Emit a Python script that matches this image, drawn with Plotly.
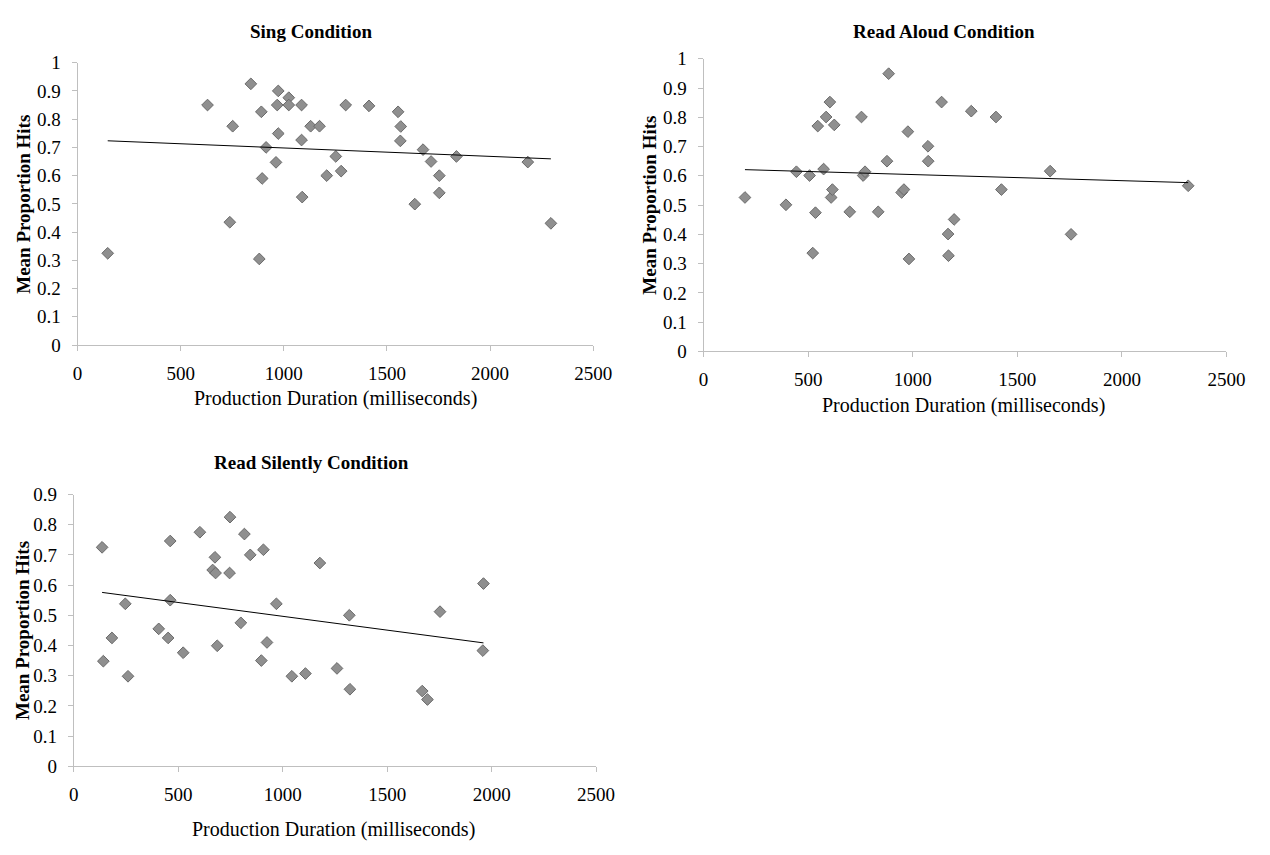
import numpy as np
import plotly.graph_objects as go

# ---------------- data ----------------
sing_x = [146, 630, 752, 738, 840, 891, 881, 895, 914, 962, 968, 973, 973, 1024, 1024, 1086, 1086, 1089,
          1130, 1173, 1208, 1252, 1278, 1300, 1413, 1554, 1567, 1565, 1635, 1675, 1714, 1754, 1754, 1837, 2183, 2295]
sing_y = [0.325, 0.850, 0.775, 0.435, 0.925, 0.826, 0.305, 0.590, 0.700, 0.647, 0.850, 0.900, 0.749, 0.876, 0.850,
          0.850, 0.726, 0.524, 0.775, 0.775, 0.600, 0.668, 0.616, 0.850, 0.847, 0.826, 0.774, 0.723, 0.499, 0.692,
          0.650, 0.600, 0.539, 0.668, 0.648, 0.431]

aloud_x = [198, 394, 444, 507, 522, 535, 546, 574, 586, 604, 610, 616, 625, 699, 755, 763, 772, 835, 877, 885,
           947, 958, 977, 982, 1073, 1074, 1138, 1169, 1171, 1198, 1280, 1398, 1424, 1657, 1757, 2317]
aloud_y = [0.526, 0.501, 0.614, 0.601, 0.336, 0.474, 0.770, 0.623, 0.801, 0.852, 0.526, 0.553, 0.774, 0.477,
           0.801, 0.601, 0.614, 0.477, 0.650, 0.949, 0.543, 0.553, 0.751, 0.316, 0.701, 0.650, 0.852, 0.401,
           0.327, 0.451, 0.821, 0.801, 0.553, 0.616, 0.400, 0.566]

silent_x = [136, 142, 183, 247, 260, 407, 452, 462, 462, 524, 604, 665, 676, 679, 687, 746, 748, 800, 817, 845,
            898, 908, 925, 970, 1044, 1109, 1178, 1260, 1319, 1322, 1668, 1693, 1753, 1961, 1958]
silent_y = [0.725, 0.348, 0.425, 0.538, 0.298, 0.455, 0.425, 0.746, 0.550, 0.376, 0.775, 0.650, 0.692, 0.640,
            0.399, 0.640, 0.825, 0.475, 0.769, 0.700, 0.350, 0.717, 0.410, 0.538, 0.298, 0.307, 0.673, 0.324,
            0.500, 0.255, 0.249, 0.221, 0.512, 0.605, 0.383]

titles = ["Sing Condition", "Read Aloud Condition", "Read Silently Condition"]
x_title = "Production Duration (milliseconds)"
y_title = "Mean Proportion Hits"
x_ticks = [0, 500, 1000, 1500, 2000, 2500]
y_ticks_10 = [0, 0.1, 0.2, 0.3, 0.4, 0.5, 0.6, 0.7, 0.8, 0.9, 1]
y_ticks_09 = [0, 0.1, 0.2, 0.3, 0.4, 0.5, 0.6, 0.7, 0.8, 0.9]

# ---------------- figure ----------------
W, H = 1270, 855
FONT = "Liberation Serif, Times New Roman, serif"
AX = "#bfbfbf"


def px(x):
    return x / W


def py(y):
    return 1 - y / H


panels = [
    dict(x=sing_x, y=sing_y, xd=[px(74), px(599.5)], yd=[py(343.5), py(54)], yr=[0, 1], yt=y_ticks_10,
         title=titles[0], tpos=(312, 22), xtpos=(337, 398), ytpos=(18, 199)),
    dict(x=aloud_x, y=aloud_y, xd=[px(712), px(1245)], yd=[py(350), py(50)], yr=[0, 1], yt=y_ticks_10,
         title=titles[1], tpos=(957, 22), xtpos=(977, 405), ytpos=(657, 200)),
    dict(x=silent_x, y=silent_y, xd=[px(70), px(602.5)], yd=[py(775.3), py(496.7)], yr=[0, 0.9], yt=y_ticks_09,
         title=titles[2], tpos=(312, 464), xtpos=(335, 840), ytpos=(18, 636)),
]

fig = go.Figure()
annotations = []
for i, p in enumerate(panels, start=1):
    xa = "x" if i == 1 else f"x{i}"
    ya = "y" if i == 1 else f"y{i}"
    fig.add_trace(go.Scatter(
        x=p["x"], y=p["y"], mode="markers", xaxis=xa, yaxis=ya, showlegend=False,
        marker=dict(symbol="diamond", size=9, color="#8f8f8f", line=dict(color="#6a6a6a", width=1)),
    ))
    slope, intercept = np.polyfit(p["x"], p["y"], 1)
    lx = np.array([min(p["x"]), max(p["x"])])
    fig.add_trace(go.Scatter(
        x=lx, y=slope * lx + intercept, mode="lines", xaxis=xa, yaxis=ya, showlegend=False,
        line=dict(color="black", width=1),
    ))
    axis_common = dict(showline=True, linecolor=AX, linewidth=1, ticks="outside", ticklen=5, tickcolor=AX,
                       showgrid=False, zeroline=False,
                       tickfont=dict(family=FONT, size=19, color="black"))
    fig.update_layout(**{
        ("xaxis" if i == 1 else f"xaxis{i}"): dict(domain=p["xd"], range=[0, 2500], tickvals=x_ticks,
                                                    anchor=ya, ticklabelstandoff=6, **axis_common),
        ("yaxis" if i == 1 else f"yaxis{i}"): dict(domain=p["yd"], range=p["yr"], tickvals=p["yt"],
                                                    ticktext=[f"{v:g}" for v in p["yt"]],
                                                    anchor=xa, ticklabelstandoff=7, **axis_common),
    })
    annotations.append(dict(text=f"<b>{p['title']}</b>", x=px(p["tpos"][0]), y=py(p["tpos"][1]),
                            xref="paper", yref="paper", showarrow=False, xanchor="center", yanchor="middle",
                            font=dict(family=FONT, size=19, color="black")))
    annotations.append(dict(text=x_title, x=px(p["xtpos"][0]), y=py(p["xtpos"][1]),
                            xref="paper", yref="paper", showarrow=False, xanchor="center", yanchor="middle",
                            font=dict(family=FONT, size=20, color="black")))
    annotations.append(dict(text=f"<b>{y_title}</b>", x=px(p["ytpos"][0]), y=py(p["ytpos"][1]),
                            xref="paper", yref="paper", showarrow=False, xanchor="center", yanchor="middle",
                            textangle=-90, font=dict(family=FONT, size=19, color="black")))

fig.update_layout(width=W, height=H, margin=dict(l=0, r=0, t=0, b=0), paper_bgcolor="white",
                  plot_bgcolor="white", annotations=annotations, showlegend=False,
                  font=dict(family=FONT, color="black"))

fig.write_html("out.html")
